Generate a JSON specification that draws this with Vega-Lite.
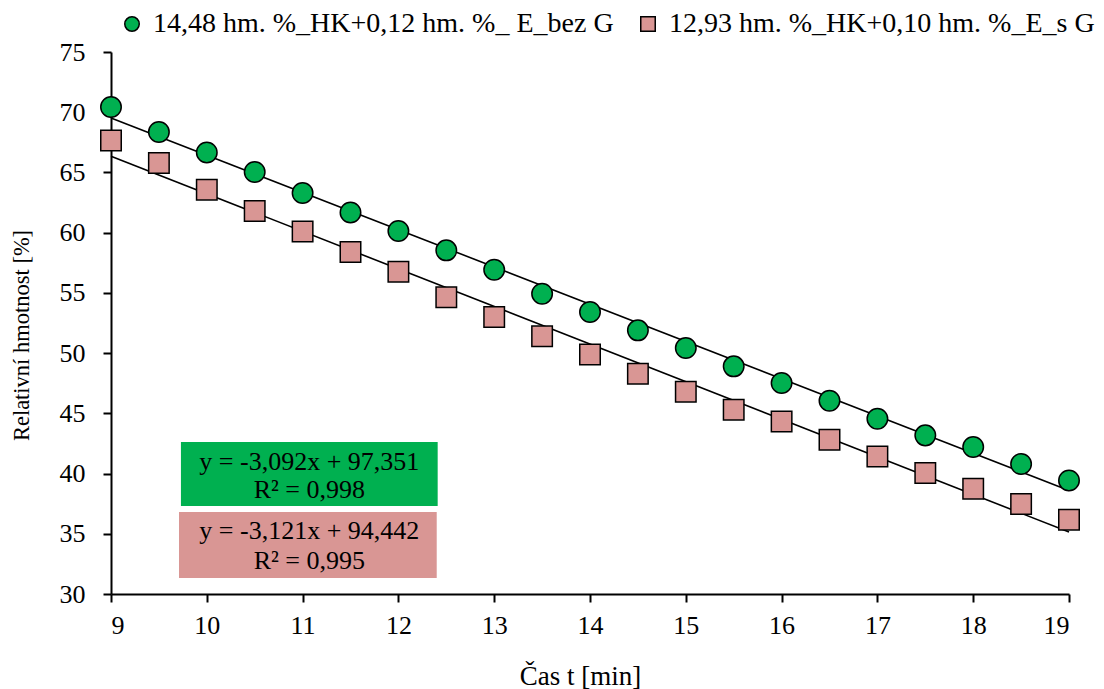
{
  "$schema": "https://vega.github.io/schema/vega-lite/v6.json",
  "width": 958,
  "height": 542,
  "autosize": {"type": "none"},
  "padding": {"left": 111, "top": 52, "right": 35, "bottom": 95},
  "background": "white",
  "config": {
    "view": {"stroke": null},
    "font": "Liberation Serif",
    "axis": {
      "grid": false,
      "domainColor": "black",
      "domainWidth": 2,
      "tickColor": "black",
      "tickWidth": 2,
      "tickSize": 8,
      "labelFont": "Liberation Serif",
      "labelFontSize": 26,
      "labelColor": "black",
      "titleFont": "Liberation Serif",
      "titleFontSize": 24,
      "titleFontWeight": "normal",
      "titleColor": "black"
    },
    "legend": {
      "labelFont": "Liberation Serif",
      "labelFontSize": 28,
      "labelColor": "black"
    }
  },
  "datasets": {
    "measured": [
      {"t": 9, "m": 70.43, "series": "14,48 hm. %_HK+0,12 hm. %_ E_bez G"},
      {"t": 9.5, "m": 68.36, "series": "14,48 hm. %_HK+0,12 hm. %_ E_bez G"},
      {"t": 10, "m": 66.66, "series": "14,48 hm. %_HK+0,12 hm. %_ E_bez G"},
      {"t": 10.5, "m": 65.04, "series": "14,48 hm. %_HK+0,12 hm. %_ E_bez G"},
      {"t": 11, "m": 63.29, "series": "14,48 hm. %_HK+0,12 hm. %_ E_bez G"},
      {"t": 11.5, "m": 61.68, "series": "14,48 hm. %_HK+0,12 hm. %_ E_bez G"},
      {"t": 12, "m": 60.14, "series": "14,48 hm. %_HK+0,12 hm. %_ E_bez G"},
      {"t": 12.5, "m": 58.53, "series": "14,48 hm. %_HK+0,12 hm. %_ E_bez G"},
      {"t": 13, "m": 56.92, "series": "14,48 hm. %_HK+0,12 hm. %_ E_bez G"},
      {"t": 13.5, "m": 54.93, "series": "14,48 hm. %_HK+0,12 hm. %_ E_bez G"},
      {"t": 14, "m": 53.41, "series": "14,48 hm. %_HK+0,12 hm. %_ E_bez G"},
      {"t": 14.5, "m": 51.89, "series": "14,48 hm. %_HK+0,12 hm. %_ E_bez G"},
      {"t": 15, "m": 50.42, "series": "14,48 hm. %_HK+0,12 hm. %_ E_bez G"},
      {"t": 15.5, "m": 48.9, "series": "14,48 hm. %_HK+0,12 hm. %_ E_bez G"},
      {"t": 16, "m": 47.52, "series": "14,48 hm. %_HK+0,12 hm. %_ E_bez G"},
      {"t": 16.5, "m": 46.05, "series": "14,48 hm. %_HK+0,12 hm. %_ E_bez G"},
      {"t": 17, "m": 44.55, "series": "14,48 hm. %_HK+0,12 hm. %_ E_bez G"},
      {"t": 17.5, "m": 43.17, "series": "14,48 hm. %_HK+0,12 hm. %_ E_bez G"},
      {"t": 18, "m": 42.2, "series": "14,48 hm. %_HK+0,12 hm. %_ E_bez G"},
      {"t": 18.5, "m": 40.79, "series": "14,48 hm. %_HK+0,12 hm. %_ E_bez G"},
      {"t": 19, "m": 39.43, "series": "14,48 hm. %_HK+0,12 hm. %_ E_bez G"},
      {"t": 9, "m": 67.66, "series": "12,93 hm. %_HK+0,10 hm. %_E_s G"},
      {"t": 9.5, "m": 65.78, "series": "12,93 hm. %_HK+0,10 hm. %_E_s G"},
      {"t": 10, "m": 63.57, "series": "12,93 hm. %_HK+0,10 hm. %_E_s G"},
      {"t": 10.5, "m": 61.8, "series": "12,93 hm. %_HK+0,10 hm. %_E_s G"},
      {"t": 11, "m": 60.1, "series": "12,93 hm. %_HK+0,10 hm. %_E_s G"},
      {"t": 11.5, "m": 58.39, "series": "12,93 hm. %_HK+0,10 hm. %_E_s G"},
      {"t": 12, "m": 56.76, "series": "12,93 hm. %_HK+0,10 hm. %_E_s G"},
      {"t": 12.5, "m": 54.63, "series": "12,93 hm. %_HK+0,10 hm. %_E_s G"},
      {"t": 13, "m": 53.0, "series": "12,93 hm. %_HK+0,10 hm. %_E_s G"},
      {"t": 13.5, "m": 51.39, "series": "12,93 hm. %_HK+0,10 hm. %_E_s G"},
      {"t": 14, "m": 49.89, "series": "12,93 hm. %_HK+0,10 hm. %_E_s G"},
      {"t": 14.5, "m": 48.29, "series": "12,93 hm. %_HK+0,10 hm. %_E_s G"},
      {"t": 15, "m": 46.8, "series": "12,93 hm. %_HK+0,10 hm. %_E_s G"},
      {"t": 15.5, "m": 45.3, "series": "12,93 hm. %_HK+0,10 hm. %_E_s G"},
      {"t": 16, "m": 44.33, "series": "12,93 hm. %_HK+0,10 hm. %_E_s G"},
      {"t": 16.5, "m": 42.81, "series": "12,93 hm. %_HK+0,10 hm. %_E_s G"},
      {"t": 17, "m": 41.42, "series": "12,93 hm. %_HK+0,10 hm. %_E_s G"},
      {"t": 17.5, "m": 40.05, "series": "12,93 hm. %_HK+0,10 hm. %_E_s G"},
      {"t": 18, "m": 38.74, "series": "12,93 hm. %_HK+0,10 hm. %_E_s G"},
      {"t": 18.5, "m": 37.47, "series": "12,93 hm. %_HK+0,10 hm. %_E_s G"},
      {"t": 19, "m": 36.17, "series": "12,93 hm. %_HK+0,10 hm. %_E_s G"}
    ],
    "trend": [
      {"t": 9, "m": 69.523, "series": "bez G"},
      {"t": 19, "m": 38.603, "series": "bez G"},
      {"t": 9, "m": 66.353, "series": "s G"},
      {"t": 19, "m": 35.143, "series": "s G"}
    ],
    "boxes": [
      {"series": "bez G", "x1": 9.73, "x2": 12.41, "y1": 42.63, "y2": 37.31},
      {"series": "s G", "x1": 9.71, "x2": 12.4, "y1": 36.81, "y2": 31.33}
    ],
    "equations": [
      {"t": 11.07, "m": 41.0, "label": "y = -3,092x + 97,351"},
      {"t": 11.07, "m": 38.62, "label": "R² = 0,998"},
      {"t": 11.07, "m": 35.2, "label": "y = -3,121x + 94,442"},
      {"t": 11.07, "m": 32.77, "label": "R² = 0,995"}
    ]
  },
  "layer": [
    {
      "data": {"name": "boxes"},
      "mark": {"type": "rect"},
      "encoding": {
        "x": {"field": "x1", "type": "quantitative", "scale": {"domain": [9, 19], "nice": false}},
        "x2": {"field": "x2"},
        "y": {"field": "y1", "type": "quantitative", "scale": {"domain": [30, 75], "nice": false}},
        "y2": {"field": "y2"},
        "fill": {
          "field": "series",
          "type": "nominal",
          "scale": {"domain": ["bez G", "s G"], "range": ["#00B050", "#D99694"]},
          "legend": null
        }
      }
    },
    {
      "data": {"name": "equations"},
      "mark": {"type": "text", "font": "Liberation Serif", "fontSize": 26, "color": "black", "align": "center", "baseline": "middle"},
      "encoding": {
        "x": {"field": "t", "type": "quantitative"},
        "y": {"field": "m", "type": "quantitative"},
        "text": {"field": "label"}
      }
    },
    {
      "data": {"name": "trend"},
      "mark": {"type": "line", "color": "black", "strokeWidth": 1.6},
      "encoding": {
        "x": {"field": "t", "type": "quantitative"},
        "y": {"field": "m", "type": "quantitative"},
        "detail": {"field": "series"}
      }
    },
    {
      "data": {"name": "measured"},
      "mark": {"type": "point", "filled": true, "opacity": 1, "stroke": "black", "strokeWidth": 1.5, "size": 420},
      "encoding": {
        "x": {
          "field": "t", "type": "quantitative",
          "scale": {"domain": [9, 19], "nice": false},
          "axis": {"values": [9, 10, 11, 12, 13, 14, 15, 16, 17, 18, 19], "format": "d", "title": "Čas t [min]", "titleFontSize": 27, "titleX": 469, "labelPadding": 10, "titlePadding": 25}
        },
        "y": {
          "field": "m", "type": "quantitative",
          "scale": {"domain": [30, 75], "nice": false, "zero": false},
          "axis": {"values": [30, 35, 40, 45, 50, 55, 60, 65, 70, 75], "format": "d", "title": "Relativní hmotnost [%]", "titleFontSize": 22.5, "titleY": 283, "labelPadding": 18, "titlePadding": 26}
        },
        "color": {
          "field": "series", "type": "nominal",
          "scale": {
            "domain": ["14,48 hm. %_HK+0,12 hm. %_ E_bez G", "12,93 hm. %_HK+0,10 hm. %_E_s G"],
            "range": ["#00B050", "#D99694"]
          },
          "legend": {
            "orient": "none",
            "direction": "horizontal",
            "legendX": 7,
            "legendY": -42,
            "title": null,
            "padding": 0,
            "labelFont": "Liberation Serif",
            "labelFontSize": 28,
            "labelColor": "black",
            "labelOffset": 7,
            "labelLimit": 600,
            "symbolSize": 210,
            "symbolStrokeColor": "black",
            "symbolStrokeWidth": 1.5,
            "columnPadding": 20
          }
        },
        "shape": {
          "field": "series", "type": "nominal",
          "scale": {
            "domain": ["14,48 hm. %_HK+0,12 hm. %_ E_bez G", "12,93 hm. %_HK+0,10 hm. %_E_s G"],
            "range": ["circle", "square"]
          }
        }
      }
    }
  ]
}
